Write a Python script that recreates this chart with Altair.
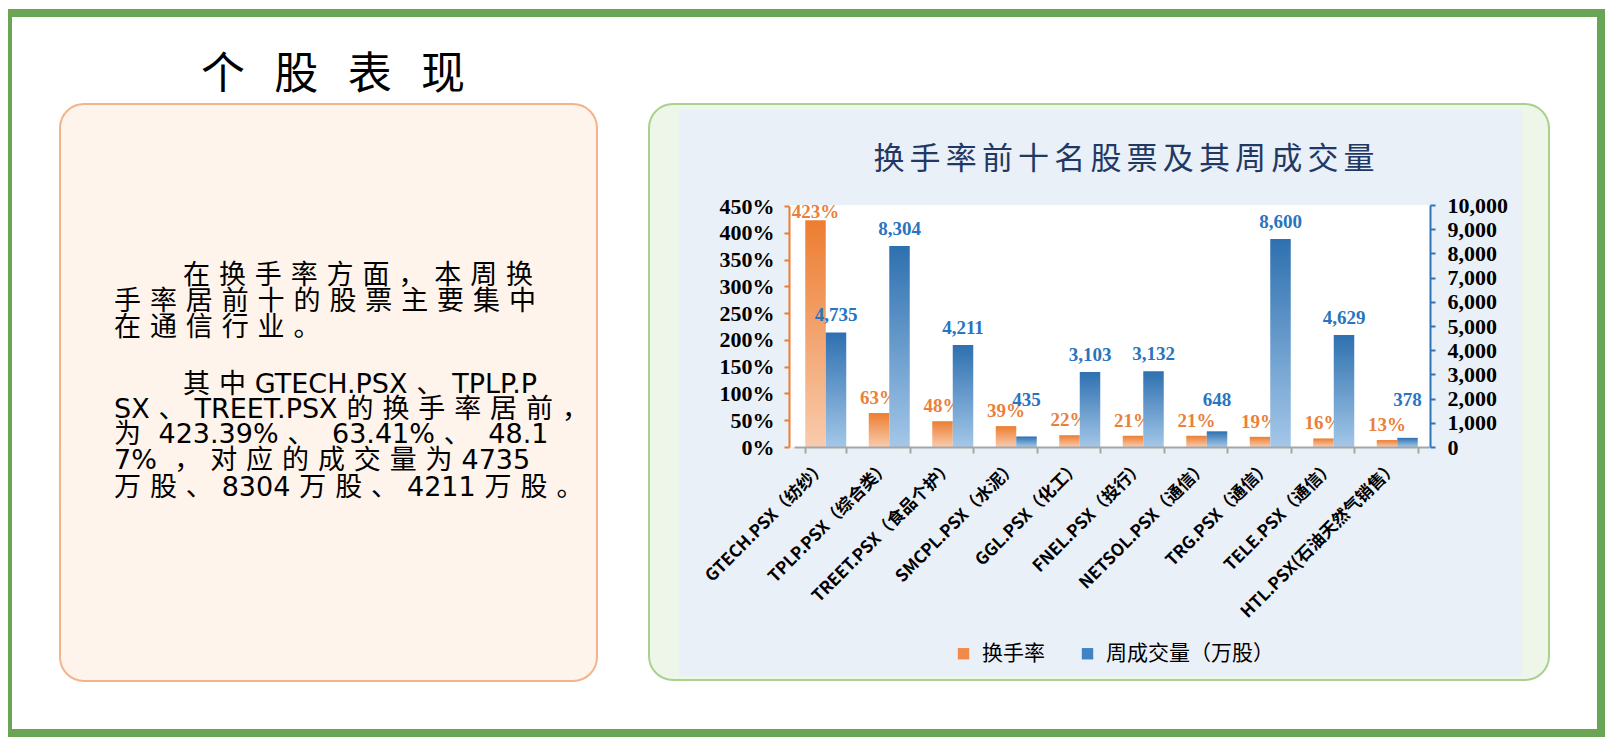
import altair as alt
import pandas as pd

# ---------------- data ----------------
stocks = ["GTECH.PSX（纺纱）", "TPLP.PSX（综合类）", "TREET.PSX（食品个护）", "SMCPL.PSX（水泥）",
          "GGL.PSX（化工）", "FNEL.PSX（投行）", "NETSOL.PSX（通信）", "TRG.PSX（通信）",
          "TELE.PSX（通信）", "HTL.PSX(石油天然气销售）"]
turnover = [4.2339, 0.6341, 0.4817, 0.39, 0.22, 0.21, 0.21, 0.19, 0.16, 0.13]
volume = [4735, 8304, 4211, 435, 3103, 3132, 648, 8600, 4629, 378]
pct_ticks = [0, 0.5, 1.0, 1.5, 2.0, 2.5, 3.0, 3.5, 4.0, 4.5]
vol_ticks = [0, 1000, 2000, 3000, 4000, 5000, 6000, 7000, 8000, 9000, 10000]
series_names = ["换手率", "周成交量（万股）"]
chart_title = "换手率前十名股票及其周成交量"
panel_title = "个股表现"
para_lines = [
    "在换手率方面，本周换",
    "手率居前十的股票主要集中",
    "在通信行业。",
    "其中GTECH.PSX、TPLP.P",
    "SX、TREET.PSX的换手率居前，",
    "为 423.39%、 63.41%、 48.1",
    "7% ，对应的成交量为4735",
    "万股、8304万股、4211万股。",
]

# ---------------- layout / style ----------------
W, H = 1598, 730
CJK = "Noto Sans CJK SC"
MIXED = "'DejaVu Sans', 'Noto Sans CJK SC'"
SERIF = "Liberation Serif"


def spread(s, gap):
    out = []
    for i, ch in enumerate(s):
        out.append(ch)
        if i < len(s) - 1 and (ord(ch) > 0x2E80 or ord(s[i + 1]) > 0x2E80):
            out.append(gap)
    return "".join(out)


one = pd.DataFrame({"a": [0]})


def box(x, x2, y, y2, **kw):
    return alt.Chart(one).mark_rect(**kw).encode(
        x=alt.value(x), x2=alt.value(x2), y=alt.value(y), y2=alt.value(y2))


def label(text, x, y, **kw):
    return alt.Chart(pd.DataFrame({"t": [text]})).mark_text(**kw).encode(
        x=alt.value(x), y=alt.value(y), text="t:N")


decor = [
    box(0, 1593, 5, 725, fill="#ffffff", fillOpacity=0, stroke="#6AA556", strokeWidth=8),
    box(52, 589, 96, 673, fill="#FEF4EC", stroke="#F2B48A", strokeWidth=2, cornerRadius=24),
    box(641, 1541, 96, 672, fill="#EEF6E9", stroke="#A9D18E", strokeWidth=2, cornerRadius=24),
    box(671, 1514, 102, 668, fill="#EAF0F7"),
    box(781, 1422, 197, 439, fill="#FFFFFF"),
]

texts = [
    label(spread(panel_title, "\u2002\u2006"), 325, 68, font=CJK, fontSize=44,
          color="#000000", align="center", baseline="middle"),
    label(spread(chart_title, "\u2006"), 1116, 152, font=CJK, fontSize=31,
          color="#1F3864", align="center", baseline="middle"),
]
line_y = [268, 294, 320, 377, 402, 427, 453, 480]
line_x = [175, 106, 106, 175, 106, 106, 106, 106]
for s, lx, ly in zip(para_lines, line_x, line_y):
    texts.append(label(spread(s, "\u2004"), lx, ly, font=MIXED, fontSize=27,
                       color="#000000", align="left", baseline="middle"))

df = pd.DataFrame({"stock": stocks, "rate": turnover, "vol": volume})
base = alt.Chart(df)

x_enc = alt.X(
    "stock:N", sort=stocks, title=None,
    scale=alt.Scale(range=[786, 1421], paddingInner=0.354, paddingOuter=0.177),
    axis=alt.Axis(orient="bottom", offset=-291, domainColor="#A6A6A6", domainWidth=2,
                  tickColor="#A6A6A6", tickWidth=2, tickSize=6, tickBand="extent",
                  labelAngle=-45, labelAlign="right", labelBaseline="top",
                  labelFont=CJK, labelFontWeight="bold", labelFontSize=17,
                  labelColor="#000000", labelPadding=5, labelOffset=-8, labelLimit=400,
                  labelOverlap=False, grid=False, title=None, zindex=2),
)
y_rate = alt.Y(
    "rate:Q", title=None,
    scale=alt.Scale(domain=[0, 4.5], range=[439, 198], nice=False, zero=True),
    axis=alt.Axis(orient="left", offset=-781, values=pct_ticks, format=".0%",
                  domainColor="#ED7D31", domainWidth=2, tickColor="#ED7D31",
                  tickWidth=2, tickSize=5, labelFont=SERIF, labelFontWeight="bold",
                  labelFontSize=22, labelColor="#000000", labelPadding=10,
                  labelOverlap=False, grid=False, title=None, zindex=2),
)
y_vol = alt.Y(
    "vol:Q", title=None,
    scale=alt.Scale(domain=[0, 10000], range=[439, 197], nice=False, zero=True),
    axis=alt.Axis(orient="right", offset=-176, values=vol_ticks, format=",d",
                  domainColor="#2E75B6", domainWidth=2, tickColor="#2E75B6",
                  tickWidth=2, tickSize=5, labelFont=SERIF, labelFontWeight="bold",
                  labelFontSize=22, labelColor="#000000", labelPadding=12,
                  labelOverlap=False, grid=False, title=None, zindex=2),
)

orange_grad = alt.Gradient(gradient="linear", x1=0, x2=0, y1=0, y2=1,
                           stops=[alt.GradientStop(color="#ED7D31", offset=0),
                                  alt.GradientStop(color="#F8CBAD", offset=1)])
blue_grad = alt.Gradient(gradient="linear", x1=0, x2=0, y1=0, y2=1,
                         stops=[alt.GradientStop(color="#2E70B0", offset=0),
                                alt.GradientStop(color="#A3C7E8", offset=1)])

BW = 20.5
orange_bars = base.mark_bar(fill=orange_grad, width=BW, xOffset=-BW / 2).encode(x=x_enc, y=y_rate)
orange_labels = (
    base.transform_calculate(lab="format(datum.rate, '.0%')")
    .transform_calculate(rate="min(datum.rate, 4.1)")
    .mark_text(xOffset=-BW / 2, dy=-15, font=SERIF, fontWeight="bold", fontSize=19,
               color="#E9803C", align="center", baseline="middle")
    .encode(x=x_enc, y=y_rate, text="lab:N")
)
blue_bars = base.mark_bar(fill=blue_grad, width=BW, xOffset=BW / 2).encode(x=x_enc, y=y_vol)
blue_labels = (
    base.transform_calculate(lab="format(datum.vol, ',')")
    .transform_calculate(vol="max(datum.vol, 1250)")
    .mark_text(xOffset=BW / 2, dy=-17, font=SERIF, fontWeight="bold", fontSize=19,
               color="#2874C0", align="center", baseline="middle")
    .encode(x=x_enc, y=y_vol, text="lab:N")
)

orange_group = alt.layer(orange_bars, orange_labels)
blue_group = alt.layer(blue_bars, blue_labels)

legend_layer = alt.Chart(pd.DataFrame({"series": series_names})).mark_square(opacity=0).encode(
    x=alt.value(-50), y=alt.value(-50),
    color=alt.Color("series:N",
                    scale=alt.Scale(domain=series_names, range=["#F08A4B", "#3F83C4"]),
                    legend=alt.Legend(orient="none", legendX=945, legendY=635,
                                      direction="horizontal", title=None,
                                      symbolType="square", symbolSize=130,
                                      symbolOpacity=1, symbolStrokeWidth=0,
                                      labelFont=CJK, labelFontSize=21,
                                      labelColor="#000000", labelLimit=400,
                                      columnPadding=32, labelOffset=8)),
)

chart = (
    alt.layer(*decor, *texts, orange_group, blue_group, legend_layer)
    .resolve_scale(y="independent")
    .properties(width=W, height=H, padding=0,
                autosize=alt.AutoSizeParams(type="none"))
    .configure_view(stroke=None)
)

chart.save("out.html", embed_options={"renderer": "svg", "actions": False})
